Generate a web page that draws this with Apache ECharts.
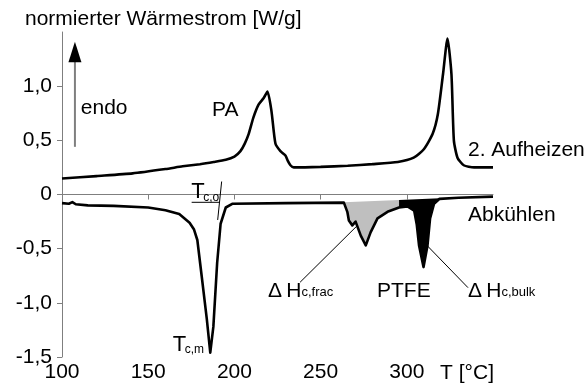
<!DOCTYPE html>
<html>
<head>
<meta charset="utf-8">
<script src="https://cdn.jsdelivr.net/npm/echarts@6/dist/echarts.min.js"></script>
<style>
  html, body { margin: 0; padding: 0; background: #fff; }
  #chart { width: 587px; height: 390px; }
</style>
</head>
<body>
<div id="chart"></div>
<script>
// DSC curves: temperature [°C] and normalised heat flow [W/g]
const heatT = [100, 120, 141, 160, 170, 180, 188, 195, 200, 203.5, 206, 208.3, 211, 214, 217, 219.2, 221.5, 223.8, 226.7, 229.6, 231, 232.5, 234.4, 250, 265.7, 280, 294.8, 304, 310, 315, 318, 321, 323.6, 325.9, 327.3, 329.4, 333, 339, 350];
const heatW = [0.147, 0.17, 0.195, 0.235, 0.26, 0.28, 0.30, 0.32, 0.35, 0.40, 0.47, 0.56, 0.71, 0.83, 0.89, 0.95, 0.77, 0.47, 0.40, 0.36, 0.31, 0.27, 0.25, 0.255, 0.265, 0.28, 0.30, 0.34, 0.42, 0.56, 0.74, 1.11, 1.44, 1.11, 0.50, 0.34, 0.27, 0.25, 0.25];

const coolT = [100, 104, 106, 108, 115, 130, 150, 160, 168, 174, 176.5, 178.5, 181, 184, 186, 187.8, 190, 192, 195, 199, 230, 263.5, 265.5, 266.4, 268.4, 270.3, 273.3, 276.2, 279, 283, 288.8, 295.5, 300.4, 304.3, 305.8, 307.1, 309.7, 312, 313.5, 315.8, 319, 330, 350];
const coolW = [-0.08, -0.085, -0.07, -0.09, -0.10, -0.105, -0.12, -0.145, -0.18, -0.26, -0.32, -0.42, -0.75, -1.15, -1.46, -1.22, -0.63, -0.27, -0.12, -0.085, -0.08, -0.075, -0.16, -0.24, -0.285, -0.25, -0.38, -0.47, -0.35, -0.22, -0.16, -0.12, -0.11, -0.15, -0.28, -0.47, -0.67, -0.47, -0.22, -0.085, -0.04, -0.03, -0.02];

// integration baseline for the crystallisation enthalpies (frac | bulk split at 295.5 °C)
const baseT = [263.5, 295.5, 319];
const baseW = [-0.072, -0.051, -0.035];

const xTicks = [100, 150, 200, 250, 300];
const yTicks = [-1.5, -1, -0.5, 0, 0.5, 1];

const FONT = '"Liberation Sans", Arial, Helvetica, sans-serif';
const zip = (a, b) => a.map((v, i) => [v, b[i]]);
const heat = zip(heatT, heatW);
const cool = zip(coolT, coolW);

// area between the cooling curve and the baseline over [baseT[i0], baseT[i1]]
function enthalpyArea(i0, i1, color) {
  return {
    type: 'custom',
    data: [[baseT[i0], baseW[i0]]],
    clip: false,
    silent: true,
    z: 1,
    renderItem: function (params, api) {
      const pts = cool
        .filter(p => p[0] >= baseT[i0] && p[0] <= baseT[i1])
        .map(p => api.coord(p));
      pts.push(api.coord([baseT[i1], baseW[i1]]));
      pts.push(api.coord([baseT[i0], baseW[i0]]));
      return { type: 'polygon', shape: { points: pts }, style: { fill: color } };
    }
  };
}

const fmt = v => (v === 0 ? '0' : v.toFixed(1).replace('.', ','));
const axisGrey = '#7f7f7f';

const chart = echarts.init(document.getElementById('chart'), null, { renderer: 'canvas' });
chart.setOption({
  animation: false,
  backgroundColor: '#fff',
  grid: { left: 62, right: 94, top: 32, bottom: 33, containLabel: false },
  xAxis: {
    type: 'value', min: 100, max: 350, interval: 50,
    axisLine: { show: true, lineStyle: { color: axisGrey, width: 1 } },
    axisTick: { show: true, length: 5, customValues: xTicks, lineStyle: { color: axisGrey } },
    axisLabel: { customValues: xTicks, margin: 5, color: '#000', fontSize: 21, fontFamily: FONT },
    splitLine: { show: false }
  },
  yAxis: {
    type: 'value', min: -1.5, max: 1.5, interval: 0.5,
    axisLine: { show: true, onZero: false, lineStyle: { color: axisGrey, width: 1 } },
    axisTick: { show: true, length: 5, customValues: yTicks, lineStyle: { color: axisGrey } },
    axisLabel: { customValues: yTicks, margin: 10, color: '#000', fontSize: 21, fontFamily: FONT, formatter: fmt },
    splitLine: { show: false }
  },
  series: [
    enthalpyArea(0, 1, '#bfbfbf'),
    enthalpyArea(1, 2, '#000000'),
    {
      name: '2. Aufheizen', type: 'line', data: heat, showSymbol: false, smooth: 0.2, z: 3,
      lineStyle: { color: '#000', width: 2.6 }
    },
    {
      name: 'Abkühlen', type: 'line', data: cool, showSymbol: false, z: 3,
      lineStyle: { color: '#000', width: 2.6, join: 'round' }
    }
  ]
});

// annotations, anchored in data coordinates
const P = (t, w) => chart.convertToPixel({ gridIndex: 0 }, [t, w]);
function txt(x, y, text, size, align) {
  return { type: 'text', x: x, y: y, z: 10,
    style: { text: text, font: size + 'px ' + FONT, fill: '#000', textAlign: align || 'left', textVerticalAlign: 'middle' } };
}
function label(t, w, text, size) {
  const [x, y] = P(t, w);
  return txt(x, y, text, size || 21);
}
// main symbol with a lowered index, e.g. T with c,o
function indexed(t, w, main, sub, size, dx) {
  const [x, y] = P(t, w);
  return [txt(x, y, main, size), txt(x + dx, y + 5, sub, 12)];
}
function subLabel(t, w, main, sub, size, drop) {
  const [x, y] = P(t, w);
  return { type: 'text', x: x, y: y, z: 10,
    style: {
      text: '{a|' + main + '}{b|' + sub + '}', fill: '#000', textAlign: 'left', textVerticalAlign: 'middle',
      rich: {
        a: { fontSize: size, fontFamily: FONT, lineHeight: size + 4, fill: '#000' },
        b: { fontSize: 13, fontFamily: FONT, lineHeight: 13, verticalAlign: 'top', padding: [drop, 0, 0, 0], fill: '#000' }
      }
    } };
}
function seg(t1, w1, t2, w2, color, width) {
  const a = P(t1, w1), b = P(t2, w2);
  return { type: 'line', z: 5, shape: { x1: a[0], y1: a[1], x2: b[0], y2: b[1] },
    style: { stroke: color, lineWidth: width } };
}
const tip = P(107.5, 1.41), hb = P(107.5, 1.22);

chart.setOption({
  graphic: [
    txt(25, 19, 'normierter Wärmestrom [W/g]', 21),
    txt(494, 373, 'T [°C]', 21, 'right'),
    // endotherm direction arrow
    seg(107.5, 0.44, 107.5, 1.26, '#7f7f7f', 2),
    { type: 'polygon', z: 6, shape: { points: [[tip[0], tip[1]], [tip[0] - 6.5, hb[1]], [tip[0] + 6.5, hb[1]]] }, style: { fill: '#000' } },
    label(110.9, 0.80, 'endo'),
    label(187, 0.78, 'PA'),
    label(335.5, 0.41, '2. Aufheizen'),
    label(335.5, -0.195, 'Abkühlen'),
    label(282.7, -0.89, 'PTFE'),
    // onset construction
    seg(175.2, -0.072, 191.6, -0.072, '#000', 1),
    seg(192.6, 0.12, 190.3, -0.235, '#000', 1),
    ...indexed(174.9, 0.02, 'T', 'c,o', 22, 12),
    ...indexed(164.2, -1.39, 'T', 'c,m', 22, 12),
    // enthalpy leaders
    seg(238.1, -0.81, 271.1, -0.29, '#000', 1),
    seg(311.7, -0.47, 335.5, -0.86, '#000', 1),
    subLabel(219.5, -0.89, 'Δ\u2009H', 'c,frac', 21, 8),
    subLabel(335.5, -0.89, 'Δ\u2009H', 'c,bulk', 21, 8)
  ]
});
</script>
</body>
</html>
